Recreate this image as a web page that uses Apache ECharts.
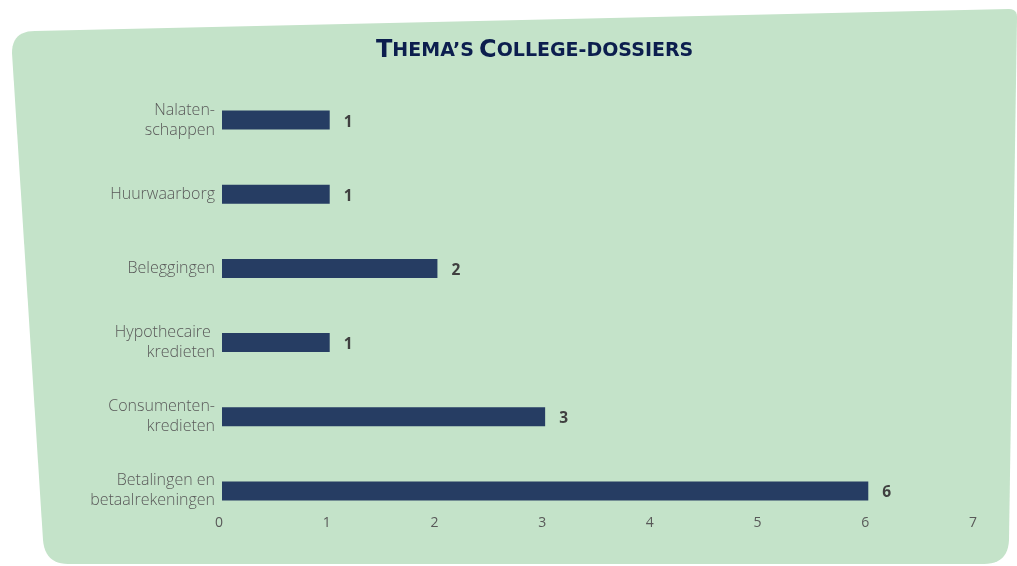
<!DOCTYPE html>
<html>
<head>
<meta charset="utf-8">
<script src="https://cdn.jsdelivr.net/npm/echarts@6/dist/echarts.min.js"></script>
<style>html,body{margin:0;padding:0;background:#fff}#c{width:1017px;height:566px}</style>
</head>
<body>
<div id="c"></div>
<script>
const categories = ["Nalaten-\nschappen", "Huurwaarborg", "Beleggingen", "Hypothecaire \nkredieten", "Consumenten-\nkredieten", "Betalingen en\nbetaalrekeningen"];
const values = [1, 1, 2, 1, 3, 6];
const xTicks = [0, 1, 2, 3, 4, 5, 6, 7];

// background panel outline (decorative): straight edges joined by quadratic corners
function quad(p0, c, p1, n) {
  const pts = [];
  for (let i = 0; i <= n; i++) {
    const t = i / n;
    pts.push([
      (1 - t) * (1 - t) * p0[0] + 2 * (1 - t) * t * c[0] + t * t * p1[0],
      (1 - t) * (1 - t) * p0[1] + 2 * (1 - t) * t * c[1] + t * t * p1[1]
    ]);
  }
  return pts;
}
const panel = [].concat(
  quad([12, 53], [12, 31], [35, 31], 12),
  quad([1009, 9], [1017, 9], [1017, 17], 6),
  quad([1009, 540], [1008, 564], [984, 564], 12),
  quad([68, 564], [45, 564], [43, 540], 12)
);

const chart = echarts.init(document.getElementById('c'));
const font = '"Open Sans", sans-serif';
const tfont = '"DejaVu Sans", sans-serif';
chart.setOption({
  animation: false,
  backgroundColor: '#ffffff',
  graphic: [{
    type: 'polygon',
    z: -10,
    silent: true,
    shape: { points: panel },
    style: { fill: '#C4E3C9' }
  }],
  title: {
    text: '{b|T}{s|HEMA’S} {b|C}{s|OLLEGE-DOSSIERS}',
    left: 371,
    top: 34,
    textStyle: {
      rich: {
        b: { fontFamily: tfont, fontWeight: 'bold', fontSize: 24, color: '#0C1E4E' },
        s: { fontFamily: tfont, fontWeight: 'bold', fontSize: 19, color: '#0C1E4E' }
      }
    }
  },
  grid: { left: 222, right: 41, top: 83, height: 445 },
  xAxis: {
    type: 'value', min: 0, max: 7, interval: 1,
    axisLine: { show: false }, axisTick: { show: false }, splitLine: { show: false },
    axisLabel: { margin: -12, color: '#595959', fontSize: 14, fontFamily: font,
      padding: [0, 6, 0, 0],
      formatter: v => xTicks.includes(v) ? String(v) : '' }
  },
  yAxis: {
    type: 'category', data: categories, inverse: true,
    axisLine: { show: false }, axisTick: { show: false },
    axisLabel: { margin: 7, color: '#595959', fontSize: 16, lineHeight: 20, fontFamily: font, fontWeight: 300, align: 'right' }
  },
  series: [{
    type: 'bar', data: values, barWidth: 19,
    itemStyle: { color: '#263D63' },
    label: { show: true, position: 'right', distance: 14, offset: [0, 2], color: '#404040', fontWeight: 'bold', fontSize: 15.5, fontFamily: font }
  }]
});
</script>
</body>
</html>
